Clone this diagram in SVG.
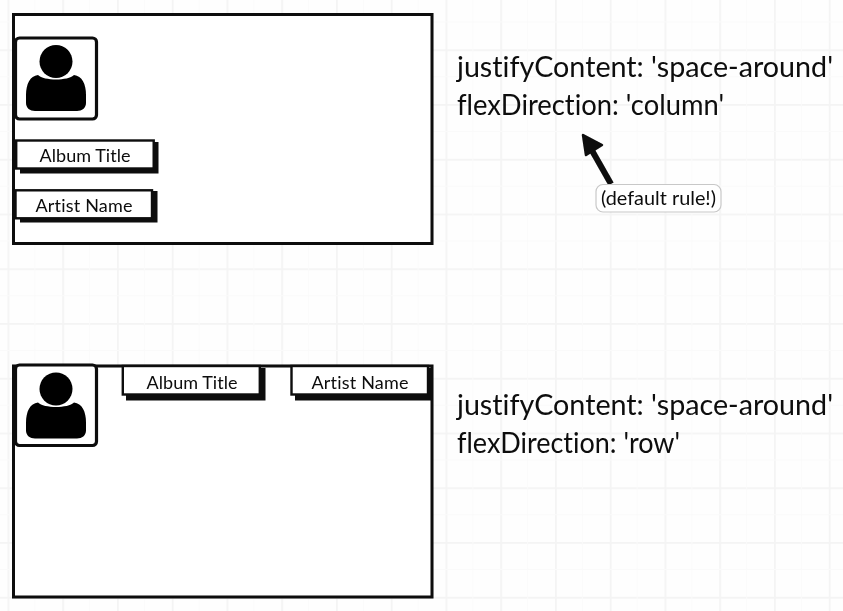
<svg xmlns="http://www.w3.org/2000/svg" width="843" height="611" viewBox="0 0 843 611">
<defs>
<g id="person"><circle cx="56" cy="61.500" r="16.500"/><path d="M38 75 C44 81 68 81 74 75 C82 76 86 84 86 95 V103 C86 108 82 111 77 111 H35 C30 111 26 108 26 103 V95 C26 84 30 76 38 75 Z"/></g>
<pattern id="grid" width="54.750" height="54.750" patternUnits="userSpaceOnUse" x="7.500" y="-5.450"><path d="M0 0V54.750M0 0H54.750" fill="none" stroke="#f4f4f4" stroke-width="3.600"/><path d="M27.375 0V54.750M0 27.375H54.750" fill="none" stroke="#fafafa" stroke-width="1"/></pattern>
<filter id="soft" x="-2%" y="-2%" width="104%" height="104%"><feGaussianBlur stdDeviation="0.400"/></filter>
</defs>
<style>
.frame{fill:#fff;stroke:#0a0a0a;stroke-width:3}
.avatar{fill:#fff;stroke:#0a0a0a;stroke-width:3.200}
.shadow{fill:#0a0a0a}
.btn{fill:#fff;stroke:#0a0a0a;stroke-width:2.400}
text{font-family:"Lato","Noto Sans",sans-serif;fill:#0a0a0a;font-variant-ligatures:none}
.lbl{font-size:18px;text-anchor:middle}
.big{font-size:29px}
</style>
<rect width="843" height="611" fill="#fefefe"/>
<rect width="843" height="611" fill="url(#grid)"/>
<g filter="url(#soft)">
<g id="frame-column">
<rect class="frame" x="13.500" y="14.500" width="418.500" height="229"/>
</g>
<g id="avatar-column"><rect class="avatar" x="15.500" y="38" width="81" height="81" rx="4"/><use href="#person"/></g>
<g id="album-column"><rect class="shadow" x="20" y="142" width="138.500" height="31.500"/><rect class="btn" x="16.200" y="140.500" width="137.500" height="28"/><text class="lbl" x="85" y="162" textLength="91">Album Title</text></g>
<g id="artist-column"><rect class="shadow" x="20" y="191" width="137.500" height="31.500"/><rect class="btn" x="15.500" y="190.300" width="136.500" height="28"/><text class="lbl" x="84" y="212" textLength="97">Artist Name</text></g>
<g id="frame-row">
<rect class="frame" x="13.500" y="366" width="418.500" height="231"/>
</g>
<g id="avatar-row"><rect class="avatar" x="15.500" y="365" width="81" height="80.500" rx="4"/><use href="#person" y="327.500"/></g>
<g id="album-row"><rect class="shadow" x="126" y="368" width="139.500" height="32.500"/><rect class="btn" x="122.800" y="366" width="137" height="28.500"/><text class="lbl" x="192" y="388.500" textLength="91">Album Title</text></g>
<g id="artist-row"><rect class="shadow" x="295" y="368" width="137.500" height="32.500"/><rect class="btn" x="291.500" y="366" width="136.500" height="28.500"/><text class="lbl" x="360" y="388.500" textLength="97">Artist Name</text></g>
<text class="big" x="457" y="77" textLength="376" lengthAdjust="spacingAndGlyphs">justifyContent: 'space-around'</text>
<text class="big" x="457" y="115" textLength="267" lengthAdjust="spacingAndGlyphs">flexDirection: 'column'</text>
<text class="big" x="457" y="415" textLength="376" lengthAdjust="spacingAndGlyphs">justifyContent: 'space-around'</text>
<text class="big" x="457" y="453" textLength="223" lengthAdjust="spacingAndGlyphs">flexDirection: 'row'</text>
<g id="connectors">
<path d="M611 184 L590 147" fill="none" stroke="#0a0a0a" stroke-width="6"/>
<path d="M583 135 L602 145 L586 155 Z" fill="#0a0a0a" stroke="#0a0a0a" stroke-width="2.500" stroke-linejoin="round"/>
</g>
<g id="note"><rect x="596" y="184.500" width="125" height="27.500" rx="7" fill="#fff" stroke="#c8c8c8" stroke-width="1.200"/><text x="658.500" y="205" font-size="19" text-anchor="middle" textLength="115" lengthAdjust="spacingAndGlyphs">(default rule!)</text></g>
</g>
</svg>
